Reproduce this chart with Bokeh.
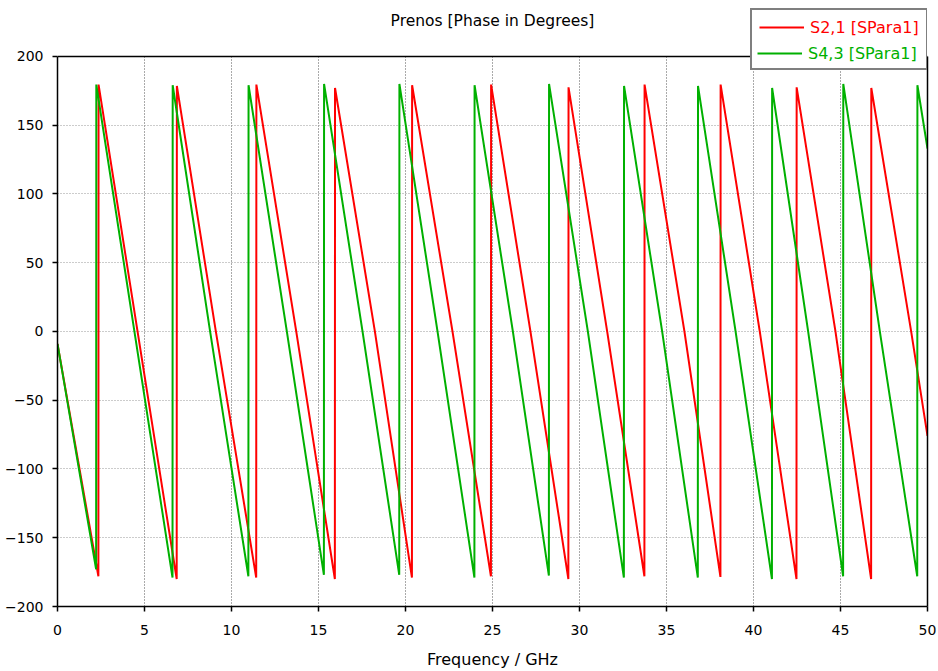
from bokeh.plotting import figure
from bokeh.models import Range1d, Legend, LegendItem, FixedTicker, LinearAxis, Span, Label
from bokeh.embed import file_html
from bokeh.resources import INLINE

# ---------------- data ----------------
title_text = "Prenos [Phase in Degrees]"
x_label = "Frequency / GHz"
x_ticks = [0, 5, 10, 15, 20, 25, 30, 35, 40, 45, 50]
y_ticks = [-200, -150, -100, -50, 0, 50, 100, 150, 200]

# S2,1 [SPara1]  (red) -- phase wraps
s21_start = [0.0, -9.0]
s21_jump_f = [2.35, 6.85, 11.42, 15.94, 20.37, 24.91, 29.36, 33.73, 38.10, 42.47, 46.76]
s21_min = [-178, -180, -179, -180, -179, -178, -180, -178, -178.5, -180, -180]
s21_max = [179.5, 178.5, 179.5, 177, 179, 179.5, 177.5, 179.5, 179.5, 177.5, 177]
s21_zero_f = [4.60, 9.10, 13.72, 18.24, 22.70, 27.18, 31.59, 36.03, 40.36, 44.71, 49.06]
s21_end = [50.0, -76.0]

# S4,3 [SPara1]  (green)
s43_start = [0.0, -9.0]
s43_jump_f = [2.22, 6.61, 10.97, 15.31, 19.64, 23.96, 28.24, 32.55, 36.80, 41.06, 45.15, 49.41]
s43_min = [-173, -179, -178, -177, -177, -179, -177.5, -179, -179, -180, -178, -178]
s43_max = [179.5, 179, 179, 180, 180, 179, 180, 178.5, 178.5, 177, 180, 179]
s43_zero_f = [4.42, 8.77, 13.18, 17.53, 21.84, 26.17, 30.48, 34.75, 38.97, 43.14, 47.26]
s43_end = [50.0, 133.0]


def build(start, jumps, mins, maxs, zeros, end):
    xs, ys = [start[0]], [start[1]]
    for i, jf in enumerate(jumps):
        xs += [jf, jf + 0.01]
        ys += [mins[i], maxs[i]]
        if i < len(zeros):
            xs.append(zeros[i])
            ys.append(0.0)
    xs.append(end[0])
    ys.append(end[1])
    return xs, ys


FONT = "DejaVu Sans"
RED = "#ff0000"
GREEN = "#00b000"

# frame extends above the 200 line so the legend box can overlap the top border
p = figure(width=938, height=671, x_range=Range1d(0, 50), y_range=Range1d(-200, 237),
           output_backend="svg", toolbar_location=None,
           min_border_left=57, min_border_right=11, min_border_top=5, min_border_bottom=64)

p.outline_line_color = None
p.background_fill_color = "#ffffff"
p.border_fill_color = "#ffffff"

p.xaxis.ticker = FixedTicker(ticks=x_ticks)
p.yaxis.ticker = FixedTicker(ticks=y_ticks)
p.yaxis.bounds = (-200, 200)
for ax in (p.xaxis, p.yaxis):
    ax.axis_line_color = "#000000"
    ax.axis_line_width = 1.5
    ax.major_tick_line_color = "#000000"
    ax.major_tick_line_width = 1.5
    ax.major_tick_out = 5
    ax.major_tick_in = 0
    ax.minor_tick_out = 0
    ax.minor_tick_in = 0
    ax.major_label_text_font = FONT
    ax.major_label_text_font_size = "14px"
    ax.major_label_text_color = "#000000"
p.xaxis.major_label_standoff = 13
p.yaxis.major_label_standoff = 9
p.xaxis.axis_label = x_label
p.xaxis.axis_label_text_font = FONT
p.xaxis.axis_label_text_font_size = "16px"
p.xaxis.axis_label_text_font_style = "normal"
p.xaxis.axis_label_text_color = "#000000"
p.xaxis.axis_label_standoff = 12

# right border as an unlabeled axis
rax = LinearAxis(bounds=(-200, 200), ticker=FixedTicker(ticks=[]), axis_line_color="#000000",
                 axis_line_width=1.5, major_label_text_font_size="0px", major_tick_out=0,
                 major_tick_in=0, minor_tick_out=0, minor_tick_in=0, major_label_standoff=0)
p.add_layout(rax, "right")

p.xgrid.grid_line_color = "#555555"
p.xgrid.grid_line_dash = "1 2"
p.xgrid.grid_line_width = 1
p.xgrid.cross_bounds = (-200, 200)
p.ygrid.grid_line_color = "#999999"
p.ygrid.grid_line_dash = "1 2"
p.ygrid.grid_line_width = 1

x21, y21 = build(s21_start, s21_jump_f, s21_min, s21_max, s21_zero_f, s21_end)
x43, y43 = build(s43_start, s43_jump_f, s43_min, s43_max, s43_zero_f, s43_end)

r21 = p.line(x21, y21, line_color=RED, line_width=2)
r43 = p.line(x43, y43, line_color=GREEN, line_width=2)

# top border of the plot box
p.add_layout(Span(location=200, dimension="width", line_color="#000000", line_width=1.5))

# title
p.add_layout(Label(x=25, y=226, text=title_text, text_align="center", text_baseline="middle",
                   text_font=FONT, text_font_size="15.5px", text_color="#000000"))

common = dict(label_text_font=FONT, label_text_font_size="16px", glyph_width=45, glyph_height=20,
              label_height=20, label_standoff=6, spacing=4, margin=0)

leg1 = Legend(items=[LegendItem(label="S2,1 [SPara1]", renderers=[r21]),
                     LegendItem(label=" ", renderers=[r43])],
              location=(693, 536), padding=7, border_line_color="#000000", border_line_width=2,
              background_fill_color="#ffffff", background_fill_alpha=1.0,
              label_text_color=RED, **common)
leg2 = Legend(items=[LegendItem(label="S4,3 [SPara1]", renderers=[r43])],
              location=(700, 543), padding=0, border_line_color=None,
              background_fill_color="#ffffff", background_fill_alpha=1.0,
              label_text_color=GREEN, **common)
p.add_layout(leg1, "center")
p.add_layout(leg2, "center")

open("out.html", "w").write(file_html(p, INLINE))
